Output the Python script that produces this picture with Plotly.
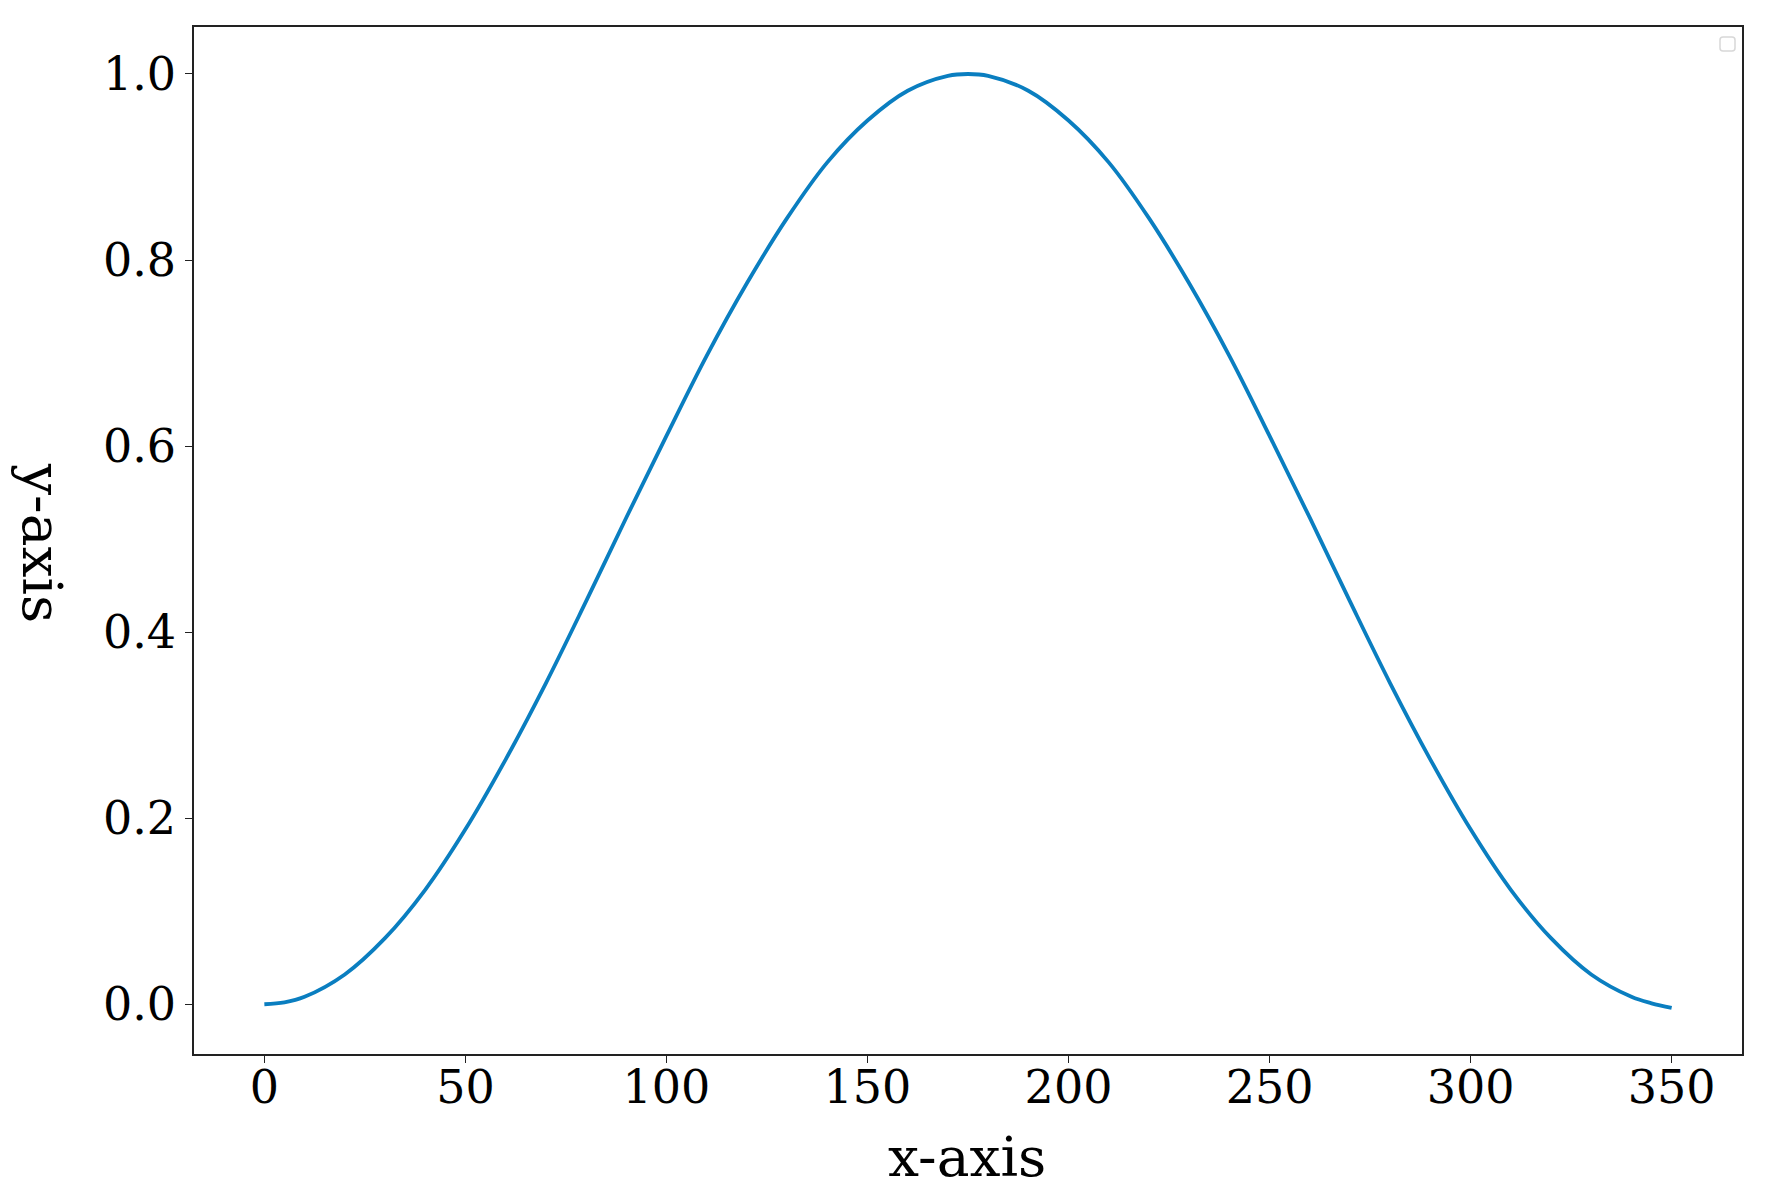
import plotly.graph_objects as go

# Values
x_values = [0, 5, 10, 20, 30, 40, 50, 60, 70, 80, 90, 100, 110, 120, 130, 140, 150,
            160, 170, 175, 180, 190, 200, 210, 220, 230, 240, 250, 260, 270, 280,
            290, 300, 310, 320, 330, 340, 345, 350]
y_values = [0.000, 0.002, 0.008, 0.032, 0.071, 0.123, 0.188, 0.263, 0.345, 0.433, 0.523,
            0.611, 0.697, 0.775, 0.845, 0.905, 0.950, 0.982, 0.998, 1.000, 0.998,
            0.982, 0.950, 0.905, 0.845, 0.775, 0.697, 0.611, 0.523, 0.433, 0.345,
            0.263, 0.188, 0.123, 0.071, 0.032, 0.008, 0.001, -0.004]
x_ticks = [0, 50, 100, 150, 200, 250, 300, 350]
y_ticks = [0.0, 0.2, 0.4, 0.6, 0.8, 1.0]

FONT = "DejaVu Serif"
W, H = 1775, 1193
OFF = 6  # page body offset
L, R, T, B = 192 - OFF, 35 + OFF, 25 - OFF, 141 + OFF

fig = go.Figure()
fig.add_trace(go.Scatter(
    x=x_values, y=y_values, mode="lines",
    line=dict(color="#0a7ec0", width=3.8, shape="spline", smoothing=1.0),
    showlegend=False,
))

axis_common = dict(
    showline=True, mirror=True, linecolor="#222222", linewidth=1.5,
    ticks="outside", ticklen=7, tickwidth=1.3, tickcolor="#222222",
    showgrid=False, zeroline=False,
    tickfont=dict(family=FONT, size=46, color="black"),
)

fig.update_layout(
    width=W, height=H,
    margin=dict(l=L, r=R, t=T, b=B),
    paper_bgcolor="white", plot_bgcolor="white",
    xaxis=dict(range=[-17.5, 367.5], tickvals=x_ticks,
               ticktext=[str(v) for v in x_ticks],
               ticklabelstandoff=-15,
               **axis_common),
    yaxis=dict(range=[-0.0535, 1.0505], tickvals=y_ticks,
               ticktext=[f"{v:.1f}" for v in y_ticks],
               **axis_common),
    showlegend=False,
)

pw = W - L - R
ph = H - T - B


def px_to_paper(px, py):
    # px, py: positions in the reference picture
    return (px - OFF - L) / pw, 1 - (py - OFF - T) / ph


# x-axis title
tx, ty = px_to_paper(965, 1155)
fig.add_annotation(
    text="x-axis", showarrow=False, xref="paper", yref="paper",
    x=tx, y=ty, xanchor="center", yanchor="middle",
    font=dict(family=FONT, size=55, color="black"),
)

# y-axis title rotated clockwise (reads top to bottom)
ax, ay = px_to_paper(40, 541)
fig.add_annotation(
    text="y-axis", textangle=90, showarrow=False,
    xref="paper", yref="paper", x=ax, y=ay,
    xanchor="center", yanchor="middle",
    font=dict(family=FONT, size=55, color="black"),
)

# empty legend box (top right)
x0, y0 = px_to_paper(1718, 35)
x1, y1 = px_to_paper(1733, 49)
rx = 3 / pw
ry = 3 / ph
path = (f"M {x0+rx},{y0} L {x1-rx},{y0} Q {x1},{y0} {x1},{y0-ry} "
        f"L {x1},{y1+ry} Q {x1},{y1} {x1-rx},{y1} L {x0+rx},{y1} "
        f"Q {x0},{y1} {x0},{y1+ry} L {x0},{y0-ry} Q {x0},{y0} {x0+rx},{y0} Z")
fig.add_shape(type="path", path=path, xref="paper", yref="paper",
              line=dict(color="#d8d8d8", width=1.5), fillcolor="white")

fig.write_html("out.html")
